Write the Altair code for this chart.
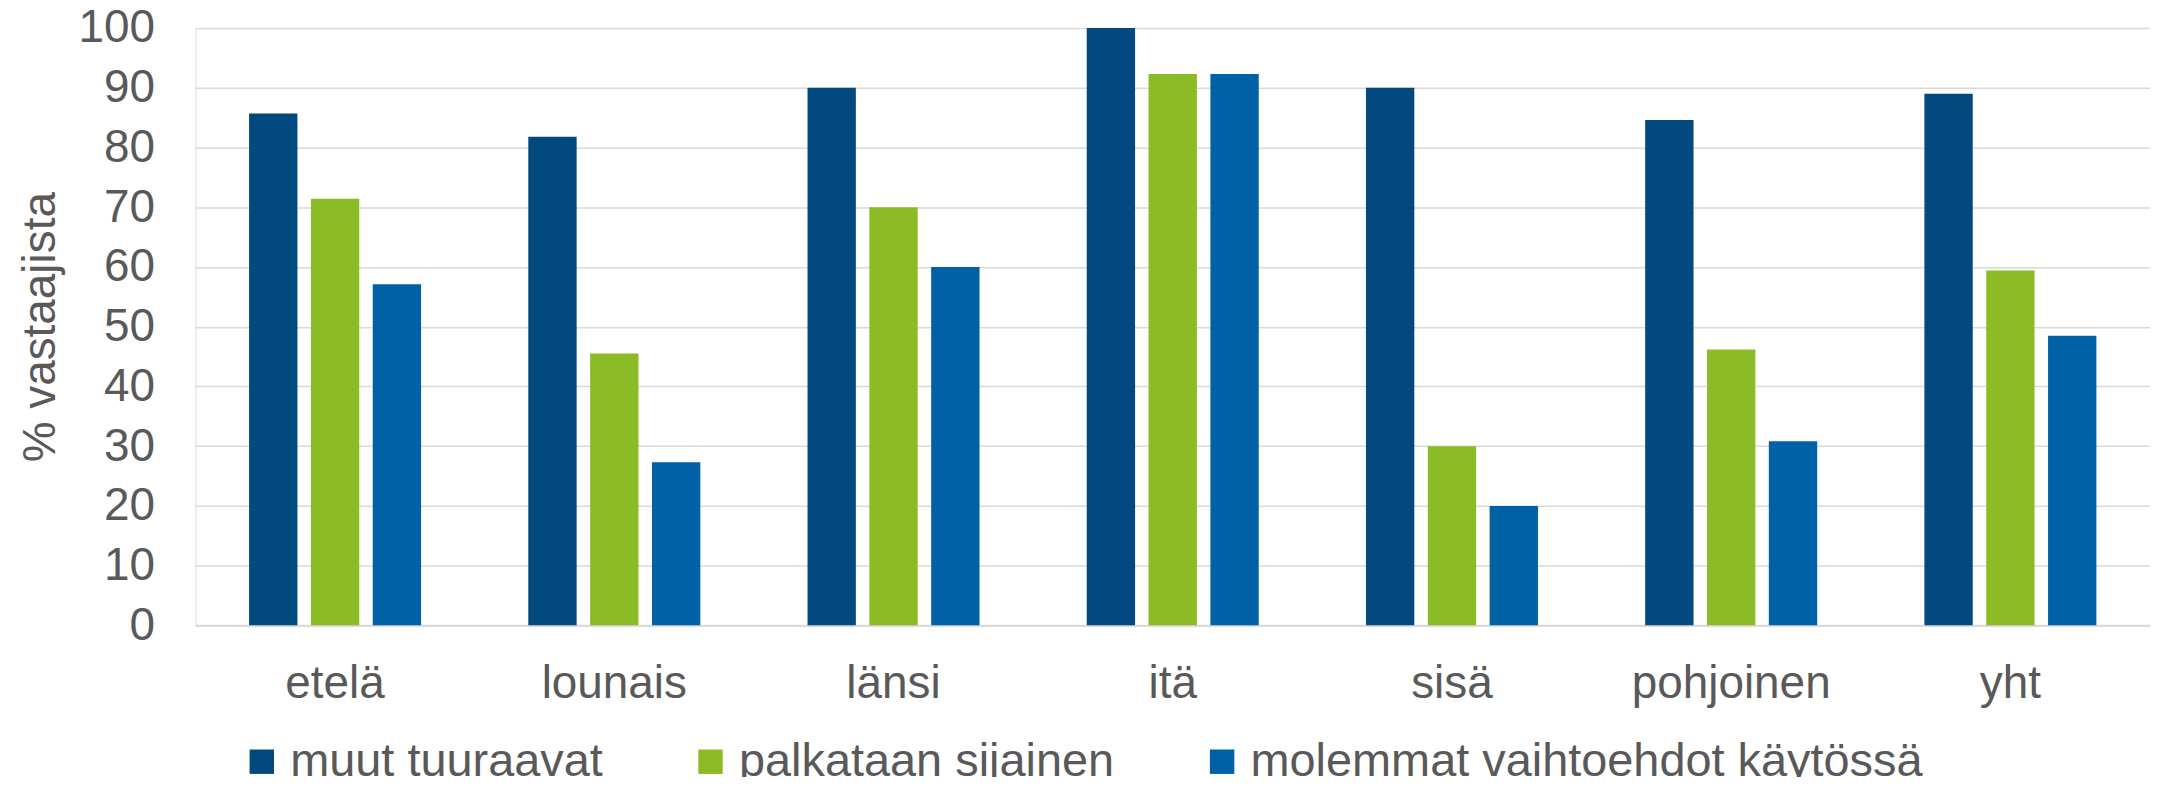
import altair as alt
import pandas as pd

regions = ["etelä", "lounais", "länsi", "itä", "sisä", "pohjoinen", "yht"]
series = ["muut tuuraavat", "palkataan sijainen", "molemmat vaihtoehdot käytössä"]
muut = [85.7, 81.8, 90.0, 100.0, 90.0, 84.6, 89.0]
palkataan = [71.4, 45.5, 70.0, 92.3, 30.0, 46.2, 59.4]
molemmat = [57.1, 27.3, 60.0, 92.3, 20.0, 30.8, 48.5]
colors = ["#02497f", "#8bbc26", "#0061a7"]
y_ticks = [0, 10, 20, 30, 40, 50, 60, 70, 80, 90, 100]

rows = []
for s, vals in zip(series, [muut, palkataan, molemmat]):
    for r, v in zip(regions, vals):
        rows.append({"alue": r, "sarja": s, "arvo": v})
df = pd.DataFrame(rows)

FONT = "Liberation Sans"
TXT = "#595959"

chart = alt.Chart(df).mark_bar().encode(
    x=alt.X("alue:N", sort=regions, title=None,
            scale=alt.Scale(paddingInner=0, paddingOuter=0),
            axis=alt.Axis(labelAngle=0, ticks=False, labelFontSize=46, labelFont=FONT,
                          labelColor=TXT, labelPadding=36, labelLimit=1000,
                          domainColor="#d9d9d9", domainWidth=2, grid=False)),
    xOffset=alt.XOffset("sarja:N", sort=series,
                        scale=alt.Scale(paddingInner=0.218, paddingOuter=0.867)),
    y=alt.Y("arvo:Q", title="% vastaajista",
            scale=alt.Scale(domain=[0, 100], nice=False),
            axis=alt.Axis(values=y_ticks, domain=False, ticks=False, labelFontSize=46,
                          labelFont=FONT, labelColor=TXT, labelPadding=41,
                          gridColor="#d9d9d9", gridWidth=1.5,
                          titleFontSize=46, titleFont=FONT, titleColor=TXT,
                          titleFontWeight="normal", titleX=-131)),
    color=alt.Color("sarja:N", sort=series,
                    scale=alt.Scale(domain=series, range=colors),
                    legend=alt.Legend(title=None, orient="none", direction="horizontal",
                                      legendX=43, legendY=712, symbolType="square",
                                      symbolSize=600, symbolStrokeWidth=0,
                                      labelFontSize=47, labelFont=FONT, labelColor=TXT,
                                      labelLimit=1000, labelOffset=5,
                                      columnPadding=84, padding=0)),
).properties(
    width=1960, height=599,
    autosize=alt.AutoSizeParams(type="none"),
    padding={"left": 188, "top": 19, "right": 0, "bottom": 151},
).configure_view(stroke=None).configure(background="white")

chart.save("out.html", embed_options={"renderer": "svg", "actions": False})
